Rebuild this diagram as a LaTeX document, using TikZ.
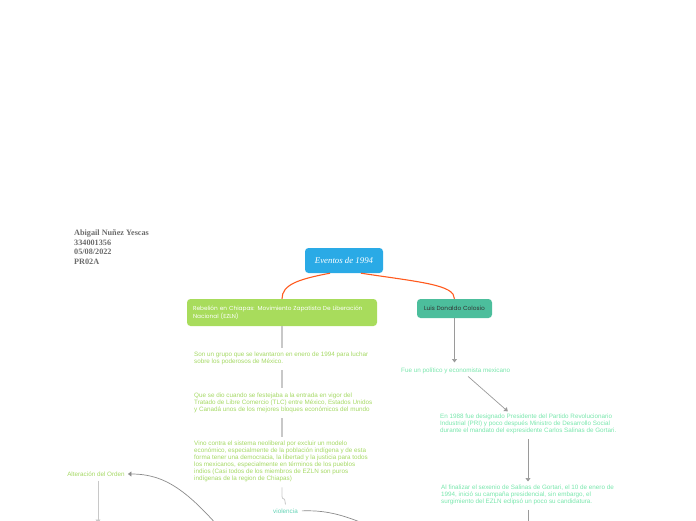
\documentclass[tikz,border=0pt]{standalone}
\usepackage{fontspec}
\setmainfont{Liberation Sans}
\newfontfamily\boxfont{Poppins}
\newfontfamily\namefont{Liberation Serif}
\usetikzlibrary{arrows.meta}

\definecolor{rootblue}{HTML}{2AAAE6}
\definecolor{limebox}{HTML}{A8DC5C}
\definecolor{tealbox}{HTML}{4CBE9C}
\definecolor{leafgreen}{HTML}{A4D863}
\definecolor{leafmint}{HTML}{78E6AC}
\definecolor{leafteal}{HTML}{62D2B4}
\definecolor{linkorange}{HTML}{FF5A1E}
\definecolor{stemgray}{HTML}{C8C8C8}
\definecolor{arrowgray}{HTML}{9A9A9A}

\begin{document}
\begin{tikzpicture}[x=1pt,y=-1pt,>={Triangle[length=3.5pt,width=5pt]},
  topic/.style={rounded corners=3.5pt,inner sep=0pt,text=white},
  leaf/.style={anchor=north west,inner sep=0pt,align=left,
    font=\fontsize{6.3}{7}\selectfont,text=leafgreen},
  mint/.style={leaf,text=leafmint},
  stem/.style={draw=stemgray,line width=1.1pt},
  pointer/.style={draw=arrowgray,line width=0.7pt,->},
  curvy/.style={draw=arrowgray!90!black,line width=0.7pt},
  branch/.style={draw=linkorange,line width=1.1pt}]
\useasboundingbox (0,0) rectangle (696,520);

% author block
\node[anchor=north west,inner sep=0pt,align=left,text=black!58,
  font=\namefont\bfseries\fontsize{8.2}{9.5}\selectfont] (author) at (74,230)
  {Abigail Nuñez Yescas\\334001356\\05/08/2022\\PR02A};

% central topic and main branches
\node[topic,fill=rootblue,minimum width=78pt,minimum height=25pt,
  font=\namefont\itshape\fontsize{8.8}{10}\selectfont] (root) at (344,260.5) {Eventos de 1994};
\node[topic,fill=limebox,minimum width=190pt,minimum height=27pt,
  text width=178pt,align=left,font=\boxfont\fontsize{5.8}{7.5}\selectfont] (rebel) at (282,312.5)
  {Rebelión en Chiapas: Movimiento Zapatista De Liberación\\Nacional (EZLN)};
\node[topic,fill=tealbox,text=black!80,minimum width=75pt,minimum height=19pt,
  font=\boxfont\fontsize{5.9}{7}\selectfont] (colosio) at (454.5,308.5) {Luis Donaldo Colosio};

\draw[branch] ([xshift=-14pt]root.south) .. controls +(-32,6) and +(0,-14) .. (rebel.north);
\draw[branch] ([xshift=17pt]root.south) .. controls +(60,9) and +(0,-14) .. (colosio.north);

% EZLN side
\node[leaf] (grupo) at (194,352)
  {Son un grupo que se levantaron en enero de 1994 para luchar\\sobre los poderosos de México.};
\node[leaf] (tlc) at (194,393)
  {Que se dio cuando se festejaba a la entrada en vigor del\\Tratado de Libre Comercio (TLC) entre México, Estados Unidos\\y Canadá unos de los mejores bloques económicos del mundo};
\node[leaf] (neolib) at (194,441)
  {Vino contra el sistema neoliberal por excluir un modelo\\económico, especialmente de la población indígena y de esta\\forma tener una democracia, la libertad y la justicia para todos\\los mexicanos, especialmente en términos de los pueblos\\indios (Casi todos de los miembros de EZLN son puros\\indígenas de la region de Chiapas)};
\node[leaf,anchor=center,text=leafteal] (violencia) at (285.5,511) {violencia};
\node[leaf,anchor=center] (orden) at (96,474) {Alteración del Orden};

\draw[stem,shorten >=4pt] (rebel.south) -- (rebel.south |- grupo.north);
\draw[stem,shorten <=5pt,shorten >=5pt] (rebel.south |- grupo.south) -- (rebel.south |- tlc.north);
\draw[stem,shorten <=5pt,shorten >=4pt] (rebel.south |- tlc.south) -- (rebel.south |- neolib.north);
\draw[stem,line width=0.8pt] ([yshift=-5pt]neolib.south -| rebel.south) -- ++(0,9)
  .. controls +(0,4) and +(0,-4) .. ++(3,5) -- ([yshift=4pt]violencia.north);

% off-page ends
\coordinate (offA) at (98,523);
\coordinate (offB) at (230,540);
\coordinate (offC) at (410,545);
\coordinate (offD) at (528,535);

\draw[stem,line width=0.8pt,->,shorten <=4pt] (orden.south -| offA) -- (offA);
\draw[curvy,->,shorten >=3pt] (offB) .. controls (188,490) and (165,474) .. (orden.east);
\draw[curvy,shorten <=4pt] (violencia.east) .. controls (330,510) and (350,515) .. (offC);

% Colosio side
\node[mint] (politico) at (401,367.5) {Fue un político y economista mexicano};
\node[mint] (pri) at (440,414)
  {En 1988 fue designado Presidente del Partido Revolucionario\\Industrial (PRI) y poco después Ministro de Desarrollo Social\\durante el mandato del expresidente Carlos Salinas de Gortari.};
\node[mint] (campana) at (441,484.5)
  {Al finalizar el sexenio de Salinas de Gortari, el 10 de enero de\\1994, inició su campaña presidencial, sin embargo, el\\surgimiento del EZLN eclipsó un poco su candidatura.};

\draw[pointer,shorten >=5pt] (colosio.south) -- (colosio.south |- politico.north);
\draw[pointer,shorten <=4pt,shorten >=4pt] ([xshift=9.5pt]politico.south) -- ([xshift=-17.5pt]pri.north);
\draw[pointer,shorten <=5pt,shorten >=3pt] (pri.south -| offD) -- (campana.north -| offD);
\draw[pointer,-,shorten <=5pt] (campana.south -| offD) -- (offD);
\end{tikzpicture}
\end{document}
